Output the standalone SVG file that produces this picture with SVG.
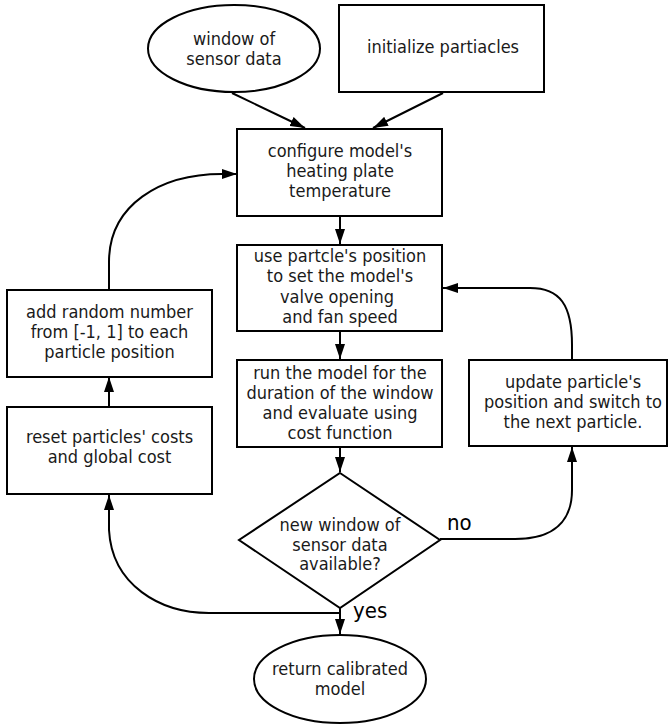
<svg xmlns="http://www.w3.org/2000/svg" width="669" height="724" viewBox="0 0 669 724">
<style>
.box{fill:#fff;stroke:#000;stroke-width:2}
.t{font-family:"DejaVu Sans Condensed","DejaVu Sans","Verdana",sans-serif;font-stretch:condensed;font-size:18px;fill:#1a1a1a;text-anchor:middle}
.lbl{font-family:"DejaVu Sans Condensed","DejaVu Sans","Verdana",sans-serif;font-stretch:condensed;font-size:22px;fill:#000}
.c{fill:none;stroke:#000;stroke-width:2}
</style>
<defs>
<marker id="ah" markerUnits="userSpaceOnUse" markerWidth="15" markerHeight="10" refX="15" refY="5" orient="auto">
<path d="M0,0 L15,5 L0,10 z" fill="#000"/>
</marker>
</defs>
<rect width="669" height="724" fill="#fff"/>
<g id="connectors">
<path class="c" d="M232,93 L305,128" marker-end="url(#ah)"/>
<path class="c" d="M443,93 L373,128" marker-end="url(#ah)"/>
<path class="c" d="M340,216 L340,244" marker-end="url(#ah)"/>
<path class="c" d="M340,331 L340,359" marker-end="url(#ah)"/>
<path class="c" d="M340,447 L340,472" marker-end="url(#ah)"/>
<path class="c" d="M340,608 L340,634" marker-end="url(#ah)"/>
<path class="c" d="M440,539 L515,539 C555,539 572,520 572,490 L572,447" marker-end="url(#ah)"/>
<path class="c" d="M572,360 L572,345 C572,305 560,288 530,288 L443,288" marker-end="url(#ah)"/>
<path class="c" d="M340,613 L209,613 C160,613 112,585 109,530 L109,495" marker-end="url(#ah)"/>
<path class="c" d="M109,407 L109,377" marker-end="url(#ah)"/>
<path class="c" d="M109,290 L109,262 C109,205 160,174 222,174 L237,174" marker-end="url(#ah)"/>
</g>
<g id="window">
<ellipse class="box" cx="234" cy="48.5" rx="86" ry="43.5"/>
<text class="t" x="234" y="45">window of</text>
<text class="t" x="234" y="65">sensor data</text>
</g>
<g id="init">
<rect class="box" x="339" y="5" width="205" height="87"/>
<text class="t" x="443" y="53">initialize partiacles</text>
</g>
<g id="config">
<rect class="box" x="237" y="129" width="205" height="87"/>
<text class="t" x="340" y="157">configure model's</text>
<text class="t" x="340" y="177">heating plate</text>
<text class="t" x="340" y="197">temperature</text>
</g>
<g id="use">
<rect class="box" x="237" y="245" width="205" height="86"/>
<text class="t" x="340" y="262">use partcle's position</text>
<text class="t" x="340" y="282">to set the model's</text>
<text class="t" x="337" y="303">valve opening</text>
<text class="t" x="340" y="323">and fan speed</text>
</g>
<g id="run">
<rect class="box" x="237" y="360" width="205" height="87"/>
<text class="t" x="340" y="379">run the model for the</text>
<text class="t" x="340" y="399">duration of the window</text>
<text class="t" x="340" y="419">and evaluate using</text>
<text class="t" x="340" y="439">cost function</text>
</g>
<g id="update">
<rect class="box" x="469" y="360" width="198" height="86"/>
<text class="t" x="573" y="388">update particle's</text>
<text class="t" x="573" y="408">position and switch to</text>
<text class="t" x="573" y="428">the next particle.</text>
</g>
<g id="decision">
<polygon class="box" points="340,473 440,540 340,608 239,540"/>
<text class="t" x="340" y="531">new window of</text>
<text class="t" x="340" y="551">sensor data</text>
<text class="t" x="340" y="570">available?</text>
<text class="lbl" x="447" y="530">no</text>
<text class="lbl" x="353" y="618">yes</text>
</g>
<g id="add">
<rect class="box" x="7" y="290" width="205" height="87"/>
<text class="t" x="109.5" y="318">add random number</text>
<text class="t" x="109.5" y="338">from [-1, 1] to each</text>
<text class="t" x="109.5" y="358">particle position</text>
</g>
<g id="reset">
<rect class="box" x="7" y="407" width="205" height="87"/>
<text class="t" x="109.5" y="443">reset particles' costs</text>
<text class="t" x="109.5" y="463">and global cost</text>
</g>
<g id="return">
<ellipse class="box" cx="340" cy="679" rx="86" ry="44"/>
<text class="t" x="340" y="675">return calibrated</text>
<text class="t" x="340" y="695">model</text>
</g>
</svg>
